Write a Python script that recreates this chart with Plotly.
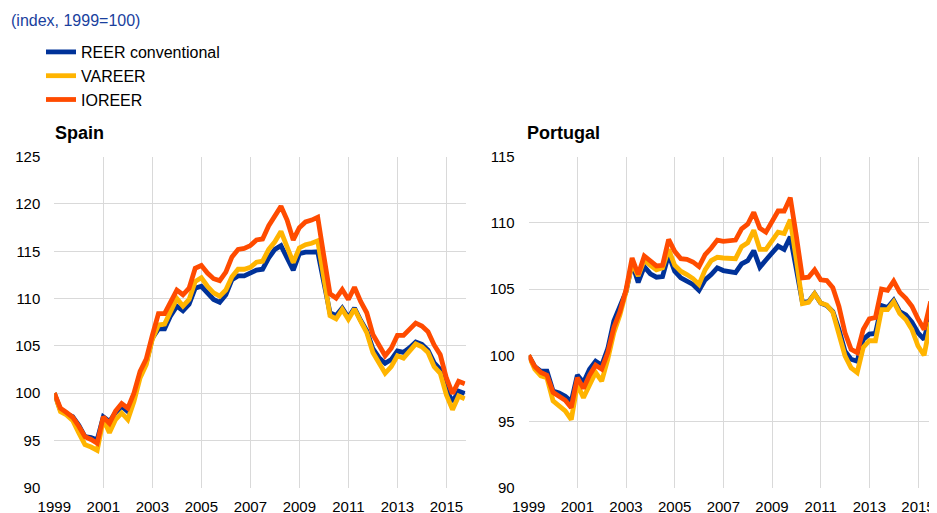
import plotly.graph_objects as go

# Quarterly periods 1999Q1 .. 2015Q4
quarters = [f"{y}Q{q}" for y in range(1999, 2016) for q in range(1, 5)]
x_pos = [int(s[:4]) + (int(s[-1]) - 1) / 4 for s in quarters]

tick_years = [1999, 2001, 2003, 2005, 2007, 2009, 2011, 2013, 2015]
tick_labels = [str(y) for y in tick_years]

series_names = ["REER conventional", "VAREER", "IOREER"]
series_colors = ["#003299", "#FFB400", "#FF4B00"]

spain_reer = [100.0, 98.2, 97.8, 97.5, 96.6, 95.4, 95.3, 95.05, 97.5, 97.0, 97.95, 98.6,
              98.05, 99.65, 101.95, 103.2, 105.8, 106.8, 106.8, 108.2, 109.2, 108.7, 109.4, 111.1,
              111.3, 110.5, 109.9, 109.6, 110.4, 112.0, 112.4, 112.4, 112.7, 113.0, 113.1, 114.3,
              115.2, 115.6, 114.3, 113.0, 114.75, 114.9, 114.9, 114.95, 111.7, 108.5, 108.2, 109.0,
              108.0, 109.0, 107.7, 106.6, 104.7, 103.75, 103.15, 103.55, 104.45, 104.3, 104.8, 105.4,
              105.15, 104.55, 103.2, 102.5, 100.35, 99.1, 100.2, 99.95]
spain_vareer = [100.0, 98.05, 97.7, 97.1, 95.8, 94.55, 94.3, 93.95, 97.2, 95.8, 97.2, 97.9,
                97.2, 99.1, 101.6, 103.0, 105.7, 107.2, 107.3, 108.6, 110.0, 109.2, 109.9, 111.8,
                112.2, 111.3, 110.6, 110.25, 110.9, 112.3, 113.1, 113.1, 113.3, 113.85, 113.95, 115.2,
                116.0, 117.1, 115.6, 113.8, 115.35, 115.7, 115.85, 116.1, 112.2, 108.2, 107.85, 108.85,
                107.8, 108.9, 107.6, 106.4, 104.3, 103.2, 102.1, 102.8, 103.95, 103.7, 104.5, 105.2,
                104.9, 104.3, 102.8, 102.1, 99.8, 98.25, 99.7, 99.4]
spain_ioreer = [100.0, 98.4, 97.95, 97.45, 96.5, 95.4, 95.1, 94.7, 97.5, 96.8, 98.1, 98.9,
                98.4, 100.0, 102.3, 103.6, 106.1, 108.4, 108.4, 109.7, 110.9, 110.4, 111.1, 113.2,
                113.5, 112.7, 112.1, 111.9, 112.8, 114.4, 115.2, 115.3, 115.6, 116.2, 116.3, 117.7,
                118.7, 119.75, 118.3, 116.2, 117.5, 118.1, 118.3, 118.6, 114.5, 110.5, 110.05, 110.95,
                109.9, 111.2, 109.7, 108.5, 106.2, 104.95, 103.95, 104.75, 106.1, 106.1, 106.8, 107.4,
                107.1, 106.5, 105.1, 104.05, 101.6, 99.95, 101.25, 101.0]

portugal_reer = [100.0, 99.15, 98.8, 98.8, 97.3, 97.15, 96.9, 96.5, 98.5, 97.95, 98.95, 99.55,
                 99.25, 100.5, 102.6, 103.6, 104.8, 106.95, 105.5, 106.7, 106.15, 105.9, 105.95, 107.6,
                 106.35, 105.85, 105.6, 105.35, 104.9, 105.7, 106.1, 106.6, 106.4, 106.35, 106.25, 106.9,
                 107.15, 107.9, 106.65, 107.2, 107.75, 108.25, 108.0, 108.95, 106.5, 104.0, 104.05, 104.65,
                 103.95, 103.75, 103.3, 101.95, 100.3, 99.7, 99.55, 101.2, 101.6, 101.65, 103.75, 103.6,
                 104.15, 103.3, 103.05, 102.5, 101.7, 101.2, 103.05, 103.05]
portugal_vareer = [100.0, 98.95, 98.45, 98.3, 96.55, 96.2, 95.8, 95.15, 97.8, 96.8, 97.7, 98.7,
                   98.05, 99.7, 101.7, 103.05, 104.8, 106.95, 106.0, 107.2, 106.8, 106.45, 106.6, 108.0,
                   106.8, 106.35, 106.1, 105.8, 105.35, 106.45, 107.15, 107.4, 107.35, 107.3, 107.3, 108.2,
                   108.5, 109.45, 108.0, 108.0, 108.6, 109.3, 109.2, 110.25, 107.2, 103.9, 104.0, 104.65,
                   103.95, 103.8, 103.25, 101.7, 99.95, 99.05, 98.7, 100.6, 101.1, 101.1, 103.45, 103.45,
                   104.05, 103.15, 102.7, 101.95, 100.7, 100.0, 102.35, 102.35]
portugal_ioreer = [100.0, 99.15, 98.7, 98.5, 97.2, 96.9, 96.6, 96.05, 98.3, 97.5, 98.5, 99.25,
                   98.95, 100.2, 102.1, 103.3, 104.95, 107.35, 106.1, 107.5, 107.1, 106.75, 106.8, 108.75,
                   107.85, 107.3, 107.25, 107.05, 106.7, 107.6, 108.1, 108.7, 108.6, 108.65, 108.7, 109.55,
                   109.9, 110.8, 109.6, 109.3, 110.1, 110.9, 110.9, 111.9, 109.0, 105.85, 105.9, 106.45,
                   105.7, 105.65, 105.1, 103.7, 101.7, 100.45, 100.2, 101.95, 102.75, 102.85, 105.0, 104.9,
                   105.6, 104.75, 104.3, 103.7, 102.75, 101.95, 103.9, 103.85]

panels = [
    ("Spain", [spain_reer, spain_vareer, spain_ioreer], [90, 125], [90, 95, 100, 105, 110, 115, 120, 125]),
    ("Portugal", [portugal_reer, portugal_vareer, portugal_ioreer], [90, 115], [90, 95, 100, 105, 110, 115]),
]

W, H = 937, 513
# the page body adds an 8px offset; positions below are in screenshot pixels
OX, OY = 8, 8
FONT = "Liberation Sans, Arial, sans-serif"


def px(x):
    return (x - OX) / W


def py(y):
    return 1 - (y - OY) / H


fig = go.Figure()

x_domains = [[px(54.3), px(465.5)], [px(528.7), px(936.5)]]
y_domain = [py(487.7), py(156.7)]

for p, (name, series, yr, yt) in enumerate(panels):
    xa = "x" if p == 0 else "x2"
    ya = "y" if p == 0 else "y2"
    for s, vals in enumerate(series):
        fig.add_trace(go.Scatter(
            x=x_pos, y=vals, mode="lines", name=series_names[s],
            line=dict(color=series_colors[s], width=4.8),
            xaxis=xa, yaxis=ya, showlegend=(p == 0),
            hovertext=quarters,
        ))
    ax = dict(
        domain=x_domains[p], range=[1999, 2015.78 if p == 0 else 2015.76],
        tickvals=tick_years, ticktext=tick_labels,
        showgrid=True, gridcolor="#d9d9d9", gridwidth=1,
        zeroline=False, showline=False, automargin=False,
        ticks="outside", ticklen=5, tickcolor="rgba(0,0,0,0)",
        tickfont=dict(family=FONT, size=15, color="#000000"),
        anchor=ya,
    )
    ay = dict(
        domain=y_domain, range=yr, tickvals=yt,
        showgrid=True, gridcolor="#d9d9d9", gridwidth=1,
        zeroline=False, showline=False, automargin=False,
        ticks="outside", ticklen=10, tickcolor="rgba(0,0,0,0)",
        tickfont=dict(family=FONT, size=15, color="#000000"),
        anchor=xa,
    )
    if p == 0:
        fig.update_layout(xaxis=ax, yaxis=ay)
    else:
        fig.update_layout(xaxis2=ax, yaxis2=ay)

annotations = [
    dict(text="(index, 1999=100)", x=px(9), y=py(20), xref="paper", yref="paper",
         xanchor="left", yanchor="middle", showarrow=False,
         font=dict(family=FONT, size=16, color="#1a3f9e")),
    dict(text="<b>Spain</b>", x=px(53), y=py(133), xref="paper", yref="paper",
         xanchor="left", yanchor="middle", showarrow=False,
         font=dict(family=FONT, size=18, color="#000000")),
    dict(text="<b>Portugal</b>", x=px(525), y=py(133), xref="paper", yref="paper",
         xanchor="left", yanchor="middle", showarrow=False,
         font=dict(family=FONT, size=18, color="#000000")),
]

fig.update_layout(
    width=W, height=H,
    margin=dict(l=0, r=0, t=0, b=0, autoexpand=False),
    paper_bgcolor="white", plot_bgcolor="white",
    font=dict(family=FONT, size=15, color="#000000"),
    annotations=annotations,
    legend=dict(x=px(41), y=py(35), xanchor="left", yanchor="top",
                font=dict(family=FONT, size=16, color="#000000"),
                bgcolor="rgba(0,0,0,0)", borderwidth=0, tracegroupgap=0),
    showlegend=True,
)

fig.write_html("out.html")
